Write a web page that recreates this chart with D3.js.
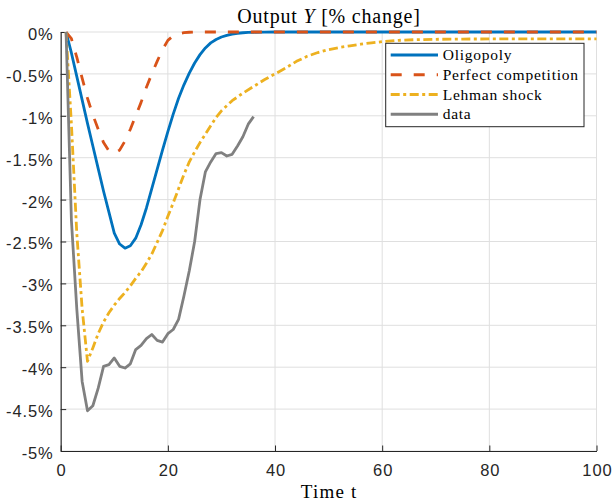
<!DOCTYPE html>
<html><head><meta charset="utf-8">
<script src="https://cdn.jsdelivr.net/npm/d3@7"></script>
<style>
html,body{margin:0;padding:0;background:#fff;}
svg{display:block;}
</style></head>
<body>
<svg id="chart" width="613" height="502"></svg>
<script>
// ---- data ----
const xTicks = [0, 20, 40, 60, 80, 100];
const yTicks = [0, -0.5, -1, -1.5, -2, -2.5, -3, -3.5, -4, -4.5, -5];
const seriesNames = ["Oligopoly", "Perfect competition", "Lehman shock", "data"];

const tOligopoly = [1,2,3,4,5,6,7,8,9,10,11,12,13,14,15,16,17,18,19,20,21,22,23,24,25,26,27,28,29,30,31,32,33,34,35,36,38,40,100];
const oligopoly = [0,-0.25,-0.53,-0.81,-1.09,-1.36,-1.63,-1.9,-2.15,-2.4,-2.53,-2.58,-2.55,-2.46,-2.3,-2.1,-1.87,-1.64,-1.41,-1.19,-0.98,-0.79,-0.63,-0.49,-0.37,-0.27,-0.19,-0.13,-0.09,-0.06,-0.04,-0.025,-0.015,-0.009,-0.005,-0.003,-0.001,0,0];

const tPerfect = [1,2,3,4,5,6,7,8,9,10,11,12,13,14,15,16,17,18,19,20,21,22,23,24,25,100];
const perfect = [0,-0.08,-0.3,-0.55,-0.79,-0.99,-1.16,-1.32,-1.42,-1.45,-1.41,-1.3,-1.16,-1.0,-0.84,-0.66,-0.5,-0.35,-0.21,-0.1,-0.045,-0.02,-0.008,-0.003,0,0];

const tLehman = [1,2,3,4,5,6,7,8,9,10,11,12,13,14,15,16,17,18,19,20,21,22,23,24,25,26,27,28,29,30,32,34,36,38,40,42,44,46,48,50,52,54,56,58,60,63,66,70,75,80,90,100];
const lehman = [0,-1.1,-2.4,-3.3,-3.93,-3.77,-3.6,-3.46,-3.35,-3.26,-3.18,-3.11,-3.03,-2.94,-2.86,-2.76,-2.65,-2.51,-2.37,-2.2,-2.04,-1.87,-1.7,-1.55,-1.43,-1.32,-1.22,-1.12,-1.02,-0.94,-0.82,-0.73,-0.65,-0.57,-0.5,-0.43,-0.35,-0.29,-0.245,-0.21,-0.185,-0.165,-0.145,-0.13,-0.115,-0.1,-0.092,-0.087,-0.084,-0.083,-0.082,-0.082];

const tData = [1,2,3,4,5,6,7,8,9,10,11,12,13,14,15,16,17,18,19,20,21,22,23,24,25,26,27,28,29,30,31,32,33,34,35,36];
const dataSeries = [0,-2.25,-3.3,-4.17,-4.52,-4.46,-4.25,-3.99,-3.97,-3.89,-3.99,-4.01,-3.96,-3.79,-3.74,-3.66,-3.61,-3.68,-3.7,-3.6,-3.55,-3.43,-3.15,-2.85,-2.5,-2.0,-1.67,-1.55,-1.45,-1.44,-1.48,-1.46,-1.36,-1.25,-1.1,-1.01];

// ---- layout ----
const L = 60.7, R = 596.5, T = 32, B = 451;
const axisColor = "#262626";
const svg = d3.select("#chart");
const x = d3.scaleLinear().domain([0, 100]).range([L, R]);
const y = d3.scaleLinear().domain([-5, 0]).range([B, T]);

// grid
const grid = svg.append("g");
grid.selectAll("line.gx").data(xTicks).join("line")
  .attr("x1", d => x(d)).attr("x2", d => x(d)).attr("y1", T).attr("y2", B)
  .attr("stroke", "#dfdfdf").attr("stroke-width", 1);
grid.selectAll("line.gy").data(yTicks).join("line")
  .attr("x1", L).attr("x2", R).attr("y1", d => y(d)).attr("y2", d => y(d))
  .attr("stroke", "#dfdfdf").attr("stroke-width", 1);

// axes
const yAxis = d3.axisLeft(y).tickValues(yTicks).tickSizeInner(-5.5).tickSizeOuter(0).tickPadding(7)
  .tickFormat(d => (d === 0 ? "0" : String(d).replace("\u2212", "-")) + "%");
const gy = svg.append("g").attr("transform", `translate(${L},0)`).call(yAxis);
const xAxis = d3.axisBottom(x).tickValues(xTicks).tickSizeInner(-5.5).tickSizeOuter(0).tickPadding(13.5)
  .tickFormat(d3.format("d"));
const gx = svg.append("g").attr("transform", `translate(0,${B})`).call(xAxis);
[gx, gy].forEach(g => {
  g.select(".domain").attr("stroke", axisColor).attr("stroke-width", 1.1);
  g.selectAll(".tick line").attr("stroke", axisColor).attr("stroke-width", 1);
  g.selectAll(".tick text").attr("fill", axisColor)
    .attr("font-family", "'Liberation Sans', Arial, sans-serif").attr("font-size", 16.5)
    .attr("letter-spacing", "0.9px");
});
gy.selectAll(".tick text").attr("dy", "0.45em");
gx.selectAll(".tick text").attr("dx", "0.45px");

// lines
const clip = svg.append("clipPath").attr("id", "clip").append("rect")
  .attr("x", L).attr("y", T - 3).attr("width", R - L + 2).attr("height", B - T + 3);
const line = d3.line().x(d => x(d[0])).y(d => y(d[1]));
const series = [
  {name: seriesNames[0], t: tOligopoly, v: oligopoly, color: "#0072BD", dash: null},
  {name: seriesNames[1], t: tPerfect, v: perfect, color: "#D95319", dash: "11,12"},
  {name: seriesNames[2], t: tLehman, v: lehman, color: "#EDB120", dash: "9,3.5,3,3.5"},
  {name: seriesNames[3], t: tData, v: dataSeries, color: "#808080", dash: null}
];
const lg = svg.append("g").attr("clip-path", "url(#clip)");
series.forEach(s => {
  lg.append("path").datum(s.t.map((t, i) => [t, s.v[i]]))
    .attr("d", line).attr("fill", "none").attr("stroke", s.color)
    .attr("stroke-width", 2.8).attr("stroke-dasharray", s.dash).attr("stroke-linejoin", "round");
});

// title
const serif = "'Liberation Serif', 'DejaVu Serif', serif";
const title = svg.append("text").attr("x", (L + R) / 2 + 0.4).attr("y", 22.5).attr("text-anchor", "middle")
  .attr("font-family", serif).attr("font-size", 20).attr("letter-spacing", "0.8px").attr("fill", "#000");
title.append("tspan").text("Output ");
title.append("tspan").attr("font-style", "italic").text("Y");
title.append("tspan").text(" [% change]");

// x label
svg.append("text").attr("x", (L + R) / 2 + 0.6).attr("y", 498).attr("text-anchor", "middle")
  .attr("font-family", serif).attr("font-size", 19).attr("letter-spacing", "1.2px").attr("fill", "#000").text("Time t");

// legend
const leg = svg.append("g");
leg.append("rect").attr("x", 385.7).attr("y", 43.3).attr("width", 198.3).attr("height", 83.4)
  .attr("fill", "#fff").attr("stroke", axisColor).attr("stroke-width", 1);
series.forEach((s, i) => {
  const cy = 55 + i * 19.75;
  leg.append("line").attr("x1", 390.7).attr("x2", 438).attr("y1", cy).attr("y2", cy)
    .attr("stroke", s.color).attr("stroke-width", 2.8).attr("stroke-dasharray", s.dash);
  leg.append("text").attr("x", 442.7).attr("y", cy + 5).attr("font-family", serif)
    .attr("font-size", 15.5).attr("letter-spacing", "0.75px").attr("fill", "#000").text(s.name);
});
</script>
</body></html>
